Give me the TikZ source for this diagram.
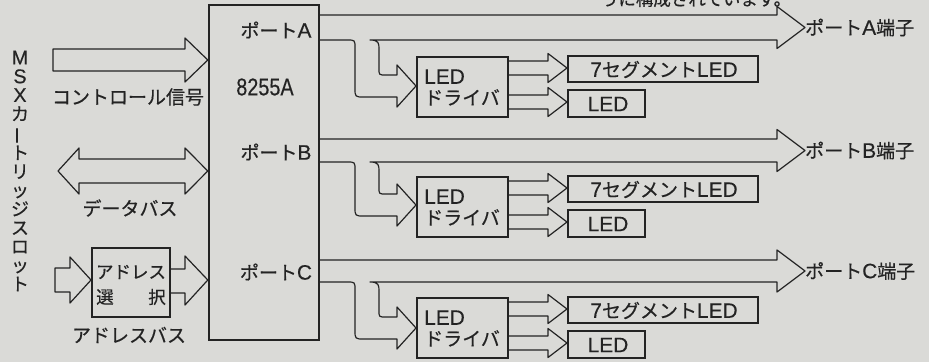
\documentclass[tikz,border=0pt]{standalone}
\usepackage{fontspec}
\setmainfont[FakeBold=0.3,Scale=1.1]{Liberation Sans}
\newfontfamily\jp[FakeBold=0.5]{Noto Sans CJK JP}
\usepackage{graphicx}
\definecolor{paper}{RGB}{218,218,215}
\definecolor{ink}{RGB}{35,35,35}
\tikzset{
  arr/.style={draw=ink, line width=1.2pt, line join=round},
  blk/.style={draw=ink, line width=2pt, rectangle, inner sep=0pt},
  lbl/.style={text=ink, inner sep=0pt, font=\fontsize{19}{21}\selectfont},
  sml/.style={text=ink, inner sep=0pt, font=\fontsize{17.5}{20}\selectfont}
}
\begin{document}
\begin{tikzpicture}[x=1pt,y=-1pt]
\fill[paper] (0,0) rectangle (929,362);
\useasboundingbox (0,0) rectangle (929,362);
\clip (0,0) rectangle (929,362);

% clipped fragment of body text at the top
\node[sml] (frag) at (696,-1) {\jp うに構成されています。};

% vertical label
\node[text=ink, inner sep=0pt, align=center, font=\fontsize{18}{18.75}\selectfont] (slot) at (20,171)
  {M\\S\\X\\\jp カ\\\jp\rotatebox[origin=c]{90}{ー}\\\jp ト\\\jp リ\\\jp ッ\\\jp ジ\\\jp ス\\\jp ロ\\\jp ッ\\\jp ト};

% 8255A chip
\node[blk, line width=2.4pt, minimum width=110pt, minimum height=335pt] (chip) at (264,172.5) {};
\node[lbl] (pa) at (276,30) {{\jp ポート}A};
\node[lbl] (chipname) at (265,87) {\scalebox{0.82}[1]{\fontsize{22}{22}\selectfont 8255A}};
\node[lbl] (pb) at (276,152) {{\jp ポート}B};
\node[lbl] (pc) at (276,272) {{\jp ポート}C};

% control signal arrow
\draw[arr] (53,49) -- (185,49) -- (185,38) -- (chip.west |- 0,60) -- (185,82) -- (185,71) -- (53,71) -- cycle;
\node[lbl] (ctl) at (128,97) {\jp コントロール信号};

% data bus
\draw[arr] (58,171) -- (79,148) -- (79,159) -- (185,159) -- (185,148) -- (chip.west |- 0,171) -- (185,194) -- (185,183) -- (79,183) -- (79,194) -- cycle;
\node[lbl] (dbus) at (130,208) {\jp データバス};

% address bus
\node[blk, minimum width=78pt, minimum height=69pt] (asel) at (131,282.5) {};
\node[sml] (asel1) at (131,272) {\jp アドレス};
\node[sml] (asel2) at (105,297) {\jp 選};
\node[sml] (asel3) at (157,297) {\jp 択};
\draw[arr] (55,268) -- (70,268) -- (70,257) -- (asel.west |- 0,280) -- (70,303) -- (70,292) -- (55,292) -- cycle;
\draw[arr] (asel.east |- 0,269) -- (185,269) -- (185,256) -- (chip.west |- 0,280) -- (185,305) -- (185,293) -- (asel.east |- 0,293);
\node[lbl] (abus) at (129,335) {\jp アドレスバス};

% ports
\foreach \T/\L/\H/\b/\n in {15/40/86/0/A, 139/162/205/120/B, 260/282/328/241/C}{
  \pgfmathsetmacro\M{(\T+\L)/2}
  \node[blk, minimum width=91pt, minimum height=60pt] (drv\n) at (462.5,{\b+87}) {};
  \node[lbl, anchor=west, align=left] (drvt\n) at (424,{\b+87.5}) {LED\\\jp ドライバ};
  \node[blk, minimum width=190pt, minimum height=26pt] (seg\n) at (663,{\b+69}) {};
  \node[lbl] (segt\n) at (664,{\b+69.5}) {7{\jp セグメント}LED};
  \node[blk, minimum width=77pt, minimum height=27pt] (led\n) at (606.5,{\b+103.5}) {};
  \node[lbl] (ledt\n) at (608,{\b+104}) {LED};
  \node[lbl, anchor=west] (term\n) at (805,\M) {{\jp ポート}\n{\jp 端子}};
  % long arrow to terminal with branch to LED driver
  \draw[arr] (chip.east |- 0,\T) -- (777,\T) -- (777,{\M-21}) -- (term\n.west) -- (777,{\M+21}) -- (777,\L) -- (370,\L)
     .. controls (379,\L) and (379,{\L+3}) .. (379,{\L+10}) -- (379,{\H-17})
     .. controls (379,{\H-11}) .. (386,{\H-11}) -- (397,{\H-11}) -- (397,{\H-21}) -- (drv\n.west |- 0,\H)
     -- (397,{\H+21}) -- (397,{\H+11}) -- (364,{\H+11})
     .. controls (355,{\H+11}) .. (355,{\H+2}) -- (355,{\L+8})
     .. controls (355,\L) .. (347,\L) -- (chip.east |- 0,\L);
  % outputs of LED driver
  \foreach \c/\tg in {{\b+68}/seg\n, {\b+102}/led\n}{
    \draw[arr] (drv\n.east |- 0,{\c-7}) -- (548,{\c-7}) -- (548,{\c-14.5}) -- (\tg.west |- 0,\c)
       -- (548,{\c+14.5}) -- (548,{\c+7}) -- (drv\n.east |- 0,{\c+7});
  }
}
\end{tikzpicture}
\end{document}
